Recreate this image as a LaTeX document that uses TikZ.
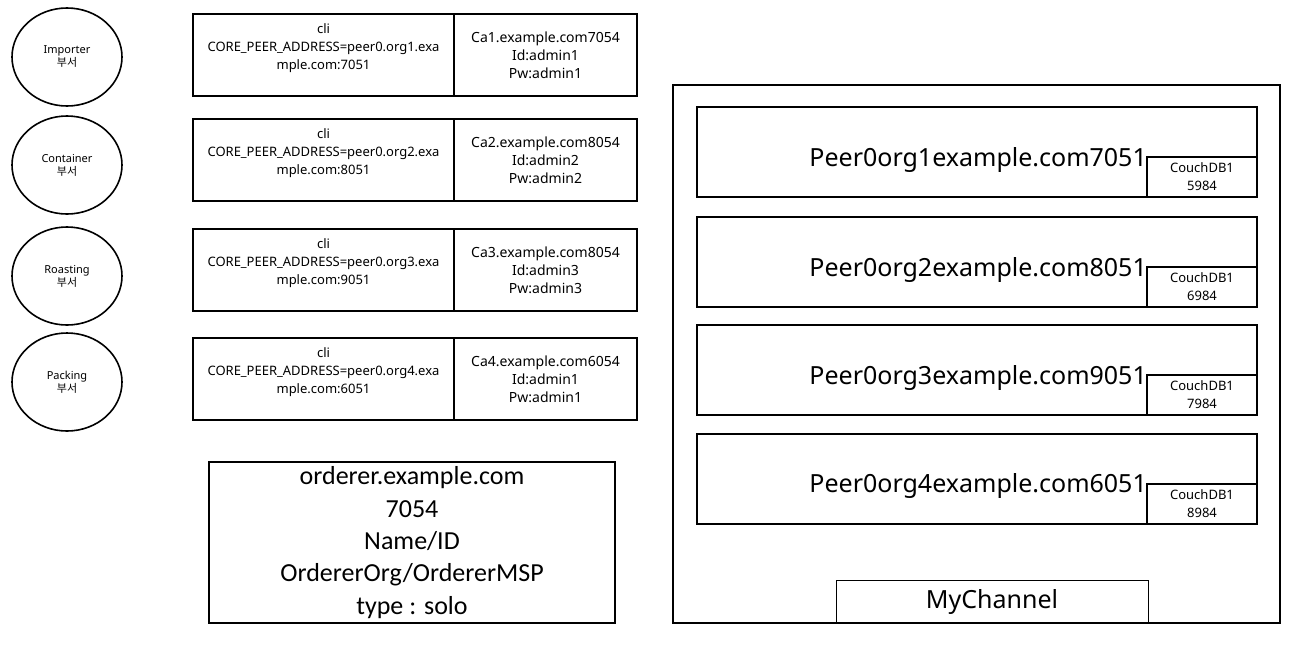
\documentclass[tikz,border=0pt]{standalone}
\usepackage{fontspec}
\setmainfont{Noto Sans}
\newfontfamily\krfont{Noto Sans CJK KR}
\newfontfamily\calfont{Carlito}
\usetikzlibrary{shapes.geometric}

\begin{document}
\begin{tikzpicture}[
  x=1pt, y=-1pt,
  dept/.style={draw, ellipse, line width=1.6pt, minimum width=110pt, minimum height=98pt, inner sep=0pt, align=center, font=\fontsize{11}{13}\selectfont},
  clibox/.style={draw, line width=2pt, minimum width=261pt, minimum height=82pt, inner sep=0pt, outer sep=0pt},
  cabox/.style={draw, line width=2pt, minimum width=183pt, minimum height=82pt, inner sep=0pt, outer sep=0pt, align=center, font=\fontsize{14}{18}\selectfont},
  clitext/.style={align=center, inner sep=0pt, font=\fontsize{13}{18}\selectfont},
  ordbox/.style={draw, line width=2pt, minimum width=406pt, minimum height=161pt, inner sep=0pt, align=center, font=\calfont\fontsize{26}{32.3}\selectfont},
  chanbox/.style={draw, line width=2pt, minimum width=607pt, minimum height=538pt, inner sep=0pt, outer sep=0pt},
  peerbox/.style={draw, line width=2pt, minimum width=560pt, minimum height=90pt, inner sep=0pt, outer sep=0pt},
  dbbox/.style={draw, line width=2pt, minimum width=110pt, minimum height=40pt, inner sep=0pt, outer sep=0pt, align=center, font=\fontsize{13}{18}\selectfont},
  peertext/.style={inner sep=0pt, font=\fontsize{25}{30}\selectfont},
  namebox/.style={draw, line width=0.9pt, minimum width=312pt, minimum height=43pt, inner sep=0pt, outer sep=0pt, font=\fontsize{25}{30}\selectfont}
]
\useasboundingbox (0,0) rectangle (1304,654);

% Departments
\node[dept] (imp) at (67,57) {Importer\\{\krfont 부서}};
\node[dept] (con) at (67,165) {Container\\{\krfont 부서}};
\node[dept] (roa) at (67,276) {Roasting\\{\krfont 부서}};
\node[dept] (pac) at (67,382) {Packing\\{\krfont 부서}};

% cli / CA rows
\node[clibox] (cli1) at (323.5,55) {};
\node[clitext] at ([yshift=7pt]cli1.center) {cli\\CORE\_PEER\_ADDRESS=peer0.org1.exa\\mple.com:7051};
\node[cabox, anchor=west] (ca1) at (cli1.east) {Ca1.example.com7054\\Id:admin1\\Pw:admin1};

\node[clibox] (cli2) at (323.5,160) {};
\node[clitext] at ([yshift=7pt]cli2.center) {cli\\CORE\_PEER\_ADDRESS=peer0.org2.exa\\mple.com:8051};
\node[cabox, anchor=west] (ca2) at (cli2.east) {Ca2.example.com8054\\Id:admin2\\Pw:admin2};

\node[clibox] (cli3) at (323.5,270) {};
\node[clitext] at ([yshift=7pt]cli3.center) {cli\\CORE\_PEER\_ADDRESS=peer0.org3.exa\\mple.com:9051};
\node[cabox, anchor=west] (ca3) at (cli3.east) {Ca3.example.com8054\\Id:admin3\\Pw:admin3};

\node[clibox] (cli4) at (323.5,379) {};
\node[clitext] at ([yshift=7pt]cli4.center) {cli\\CORE\_PEER\_ADDRESS=peer0.org4.exa\\mple.com:6051};
\node[cabox, anchor=west] (ca4) at (cli4.east) {Ca4.example.com6054\\Id:admin1\\Pw:admin1};

% Orderer
\node[ordbox] (ord) at (412,542.5) {orderer.example.com\\7054\\Name/ID\\OrdererOrg/OrdererMSP\\type : solo};

% Channel with peers
\node[chanbox] (chan) at (976.5,354) {};

\node[peerbox] (peer1) at (977,152) {};
\node[dbbox, anchor=south east] (db1) at (peer1.south east) {CouchDB1\\5984};
\node[peertext, anchor=base east] at ([yshift=-9pt]db1.north west) {Peer0org1example.com7051};

\node[peerbox] (peer2) at (977,262) {};
\node[dbbox, anchor=south east] (db2) at (peer2.south east) {CouchDB1\\6984};
\node[peertext, anchor=base east] at ([yshift=-9pt]db2.north west) {Peer0org2example.com8051};

\node[peerbox] (peer3) at (977,370) {};
\node[dbbox, anchor=south east] (db3) at (peer3.south east) {CouchDB1\\7984};
\node[peertext, anchor=base east] at ([yshift=-9pt]db3.north west) {Peer0org3example.com9051};

\node[peerbox] (peer4) at (977,478.5) {};
\node[dbbox, anchor=south east] (db4) at (peer4.south east) {CouchDB1\\8984};
\node[peertext, anchor=base east] at ([yshift=-9pt]db4.north west) {Peer0org4example.com6051};

\node[namebox, anchor=south] (mych) at (chan.south -| 992,0) {MyChannel};
\end{tikzpicture}
\end{document}
